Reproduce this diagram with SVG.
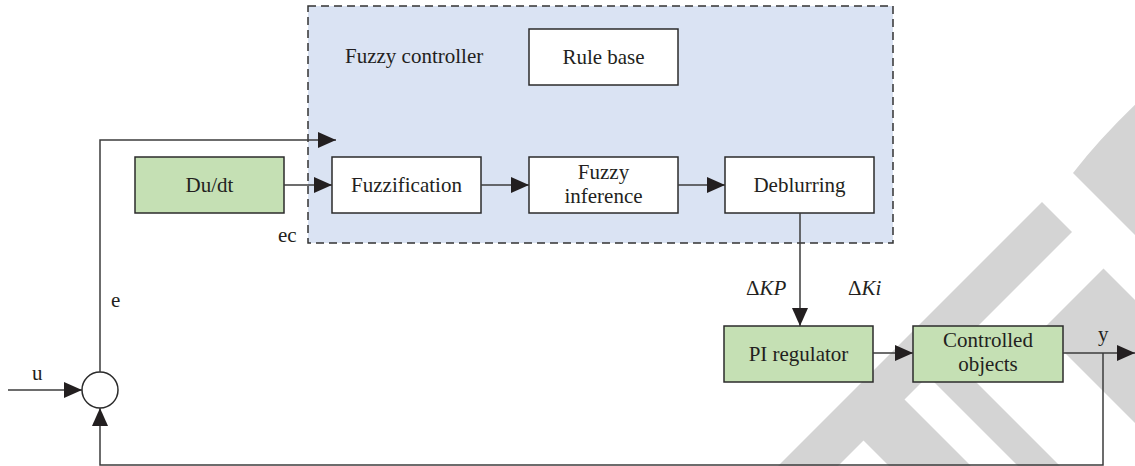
<svg xmlns="http://www.w3.org/2000/svg" width="1135" height="466" viewBox="0 0 1135 466">
  <style>
    .block { stroke: #2b2b2b; stroke-width: 1.5; }
    .plain { fill: #ffffff; }
    .green { fill: #c5e0b4; }
    .wire { fill: none; stroke: #3c3c3c; stroke-width: 1.5; }
    .arrow { marker-end: url(#head); }
    text { font-family: "Liberation Serif", "DejaVu Serif", serif; font-size: 21px; fill: #231f20; }
    .mid { text-anchor: middle; }
    .mark { fill: #d4d4d4; }
  </style>
  <defs>
    <marker id="head" markerUnits="userSpaceOnUse" markerWidth="18" markerHeight="16" refX="18" refY="8" orient="auto">
      <path d="M0,0 L18,8 L0,16 Z" fill="#231f20"/>
    </marker>
  </defs>

  <rect width="1135" height="466" fill="#ffffff"/>

  <!-- background mark shapes -->
  <g id="watermark">
    <path class="mark" d="M1042,202 L1072,232 L904.5,399.5 L1102.5,597.5 L1061.5,638.5 L863.5,440.5 L652,652 L622,622 Z"/>
    <path class="mark" d="M921,369 L942,348 L1197,603 L1176,624 Z"/>
    <path class="mark" d="M1103.5,268.5 L1042,330 L1256,544 L1317.5,482.5 Z"/>
    <path class="mark" d="M1073,173 Q1100,138 1140,100 L1140,240 Z"/>
  </g>

  <!-- fuzzy controller enclosure -->
  <g id="fuzzy-controller">
    <rect x="308" y="6" width="585" height="237" fill="#dae3f3" stroke="#333333" stroke-width="1.5" stroke-dasharray="8,5"/>
    <text x="345" y="63">Fuzzy controller</text>
  </g>

  <g id="rule-base">
    <rect class="block plain" x="529" y="29" width="149" height="56"/>
    <text class="mid" x="603.5" y="64">Rule base</text>
  </g>

  <g id="du-dt">
    <rect class="block green" x="135" y="157" width="149" height="56"/>
    <text class="mid" x="209.5" y="192">Du/dt</text>
  </g>

  <g id="fuzzification">
    <rect class="block plain" x="332" y="157" width="149" height="56"/>
    <text class="mid" x="406.5" y="192">Fuzzification</text>
  </g>

  <g id="fuzzy-inference">
    <rect class="block plain" x="529" y="157" width="149" height="56"/>
    <text class="mid" x="603.5" y="179">Fuzzy</text>
    <text class="mid" x="603.5" y="203">inference</text>
  </g>

  <g id="deblurring">
    <rect class="block plain" x="725" y="157" width="149" height="56"/>
    <text class="mid" x="799.5" y="192">Deblurring</text>
  </g>

  <g id="pi-regulator">
    <rect class="block green" x="724" y="326" width="149" height="56"/>
    <text class="mid" x="798.5" y="361">PI regulator</text>
  </g>

  <g id="controlled-objects">
    <rect class="block green" x="913" y="326" width="150" height="56"/>
    <text class="mid" x="988" y="347">Controlled</text>
    <text class="mid" x="988" y="371">objects</text>
  </g>

  <g id="summing-junction">
    <circle cx="100" cy="390" r="18" fill="#ffffff" stroke="#2b2b2b" stroke-width="1.5"/>
  </g>

  <!-- signal paths -->
  <g id="connectors">
    <line class="wire arrow" x1="8" y1="390" x2="82" y2="390"/>
    <polyline class="wire arrow" points="100,372 100,140 336,140"/>
    <line class="wire arrow" x1="284" y1="185" x2="332" y2="185"/>
    <line class="wire arrow" x1="481" y1="185" x2="529" y2="185"/>
    <line class="wire arrow" x1="678" y1="185" x2="725" y2="185"/>
    <line class="wire arrow" x1="800" y1="213" x2="800" y2="326"/>
    <line class="wire arrow" x1="873" y1="353" x2="913" y2="353"/>
    <line class="wire arrow" x1="1063" y1="353" x2="1135" y2="353"/>
    <polyline class="wire arrow" points="1103,353 1103,465 100,465 100,408"/>
  </g>

  <!-- signal labels -->
  <g id="labels">
    <text x="32" y="380">u</text>
    <text x="111" y="307">e</text>
    <text x="278" y="242">ec</text>
    <text x="746" y="295">Δ<tspan font-style="italic">KP</tspan></text>
    <text x="848" y="295">Δ<tspan font-style="italic">Ki</tspan></text>
    <text x="1098" y="341">y</text>
  </g>
</svg>
